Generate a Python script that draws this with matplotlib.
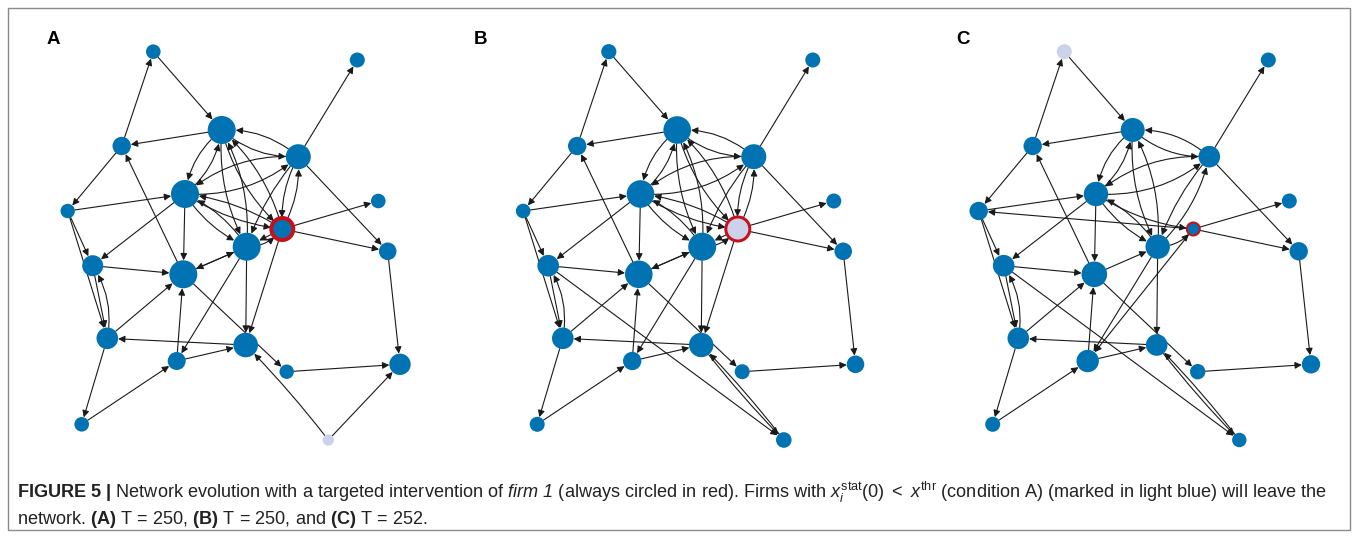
import matplotlib
matplotlib.use("Agg")
import matplotlib.pyplot as plt
from matplotlib.patches import Circle, FancyArrowPatch, Rectangle

plt.rcParams["font.family"] = ["Liberation Sans", "DejaVu Sans"]
plt.rcParams["mathtext.fontset"] = "custom"
plt.rcParams["mathtext.rm"] = "Liberation Sans"
plt.rcParams["mathtext.it"] = "Liberation Sans:italic"
plt.rcParams["mathtext.sf"] = "Liberation Sans:italic"
plt.rcParams["mathtext.bf"] = "Liberation Sans:bold"

# ---- network data -------------------------------------------------------
# node layout (same layout for every snapshot)
node_x = [153.3, 357.3, 221.7, 121.7, 298.3, 185.0, 67.7, 378.3, 282.3, 246.7,
          387.7, 92.7, 183.3, 107.3, 245.7, 176.7, 286.7, 400.0, 81.7, 328.3]
node_y = [51.7, 60.0, 130.0, 146.0, 156.7, 194.0, 211.0, 201.0, 229.0, 246.7,
          251.3, 265.7, 274.3, 338.3, 345.0, 361.0, 371.7, 364.3, 424.3, 440.0]

FIRM1 = 8

# node radii for each snapshot
radius_a = [7.3, 7.5, 14.0, 9.2, 12.5, 14.0, 7.2, 7.3, 11.0, 14.0,
            8.8, 10.5, 14.0, 10.8, 12.3, 9.0, 7.2, 10.7, 7.3, 5.7]
radius_b = [7.6, 7.5, 13.8, 9.2, 12.5, 13.8, 7.3, 7.5, 12.0, 14.0,
            8.8, 10.8, 13.8, 10.8, 12.2, 9.2, 7.5, 8.8, 7.5, 7.8]
radius_c = [7.5, 7.5, 12.0, 9.2, 10.8, 12.2, 9.2, 7.5, 6.5, 12.2,
            9.2, 10.8, 12.8, 10.8, 10.8, 11.2, 7.7, 9.2, 7.5, 7.2]

# firms that leave the network (light blue)
leaving_a = [19]
leaving_b = [8]
leaving_c = [0]

# red ring width around firm 1 (pixels)
ring_a, ring_b, ring_c = 4.0, 3.0, 2.0

common_edges = [
    (0, 2), (3, 0), (2, 3), (3, 6), (6, 5), (6, 11), (6, 13), (11, 13), (13, 11),
    (4, 1), (2, 4), (4, 2), (4, 10), (8, 7), (8, 10), (10, 17), (16, 17),
    (15, 14), (18, 15), (13, 18), (13, 12), (14, 13), (15, 12), (9, 15),
    (12, 16), (12, 3), (11, 12), (5, 11), (5, 12), (12, 9), (9, 14),
    (4, 5), (5, 4), (2, 5), (5, 2), (2, 9), (9, 2), (5, 9), (9, 5), (4, 9),
    (5, 8),
]
firm1_edges = [(8, 14), (2, 8), (8, 2), (8, 5), (8, 4), (4, 8), (8, 9), (9, 8),
               (9, 12)]
edges_a = common_edges + firm1_edges + [(19, 17), (19, 14)]
edges_b = common_edges + firm1_edges + [(11, 19), (14, 19), (19, 14)]
edges_c = common_edges + [(9, 8), (8, 6), (8, 15), (9, 4),
                          (11, 19), (14, 19), (19, 14)]

curvature = {
    (2, 4): 0.2, (4, 2): 0.2, (4, 5): 0.2, (5, 4): 0.2, (2, 5): 0.2, (5, 2): 0.2,
    (2, 9): 0.15, (9, 2): 0.15, (2, 8): 0.15, (8, 2): 0.15, (5, 8): 0.12,
    (8, 5): 0.12, (5, 9): 0.15, (9, 5): 0.15, (8, 4): 0.15, (4, 8): 0.15,
    (4, 9): 0.1, (9, 8): 0.25, (13, 11): 0.2, (9, 4): 0.15,
    (14, 19): 0.03, (19, 14): 0.03,
}

BLUE = "#0173b2"
LIGHT = "#cdd2eb"
RED = "#c8101a"
EDGE = "#1a1a1a"

W, H = 1358, 538
fig = plt.figure(figsize=(W / 100, H / 100), dpi=100)
PT = 0.72  # points per pixel at 100 dpi


def draw_panel(k, radius, leaving, ring, edges):
    left = 30 + 455.5 * k
    ax = fig.add_axes([left / W, (H - 460) / H, 410 / W, 440 / H])
    ax.set_xlim(30, 440)
    ax.set_ylim(460, 20)
    ax.axis("off")
    circles = []
    for i, (x, y) in enumerate(zip(node_x, node_y)):
        face = LIGHT if i in leaving else BLUE
        if i == FIRM1:
            c = Circle((x, y), radius[i], facecolor=face, edgecolor=RED,
                       linewidth=ring * PT, zorder=2)
        else:
            c = Circle((x, y), radius[i], facecolor=face, edgecolor="none",
                       zorder=2)
        ax.add_patch(c)
        circles.append(c)
    for a, b in edges:
        rad = curvature.get((a, b), 0.0)
        extra_b = ring * PT / 2 if b == FIRM1 else 0.0
        extra_a = ring * PT / 2 if a == FIRM1 else 0.0
        arr = FancyArrowPatch((node_x[a], node_y[a]), (node_x[b], node_y[b]),
                              arrowstyle="-|>", mutation_scale=10,
                              connectionstyle=f"arc3,rad={rad}",
                              patchA=circles[a], patchB=circles[b],
                              shrinkA=extra_a, shrinkB=extra_b,
                              linewidth=0.8, color=EDGE, zorder=1)
        ax.add_patch(arr)


draw_panel(0, radius_a, leaving_a, ring_a, edges_a)
draw_panel(1, radius_b, leaving_b, ring_b, edges_b)
draw_panel(2, radius_c, leaving_c, ring_c, edges_c)

for label, xp in zip(["A", "B", "C"], [53, 480, 963]):
    fig.text(xp / W, 1 - 40 / H, label, fontsize=13.5, fontweight="bold",
             ha="center", va="center")

line1 = (r"$\mathbf{FIGURE\ 5\ |}$ Network evolution with a targeted intervention of "
         r"$\mathsf{firm\ 1}$ (always circled in red). Firms with "
         r"$x_i^{\mathrm{stat}}(0)\ <\ x^{\mathrm{thr}}$ (condition A) "
         r"(marked in light blue) will leave the")
line2 = (r"network. $\mathbf{(A)}$ T = 250, $\mathbf{(B)}$ T = 250, and "
         r"$\mathbf{(C)}$ T = 252.")
fig.text(17 / W, 1 - 492 / H, line1, fontsize=13.1, color="#222222",
         ha="left", va="center")
fig.text(17 / W, 1 - 520 / H, line2, fontsize=13.1, color="#222222",
         ha="left", va="center")

fig.add_artist(Rectangle((8 / W, 8 / H), 1342 / W, 522 / H,
                         transform=fig.transFigure, fill=False,
                         edgecolor="#8a8a8a", linewidth=1.0))

fig.savefig("out.png", dpi=100)
